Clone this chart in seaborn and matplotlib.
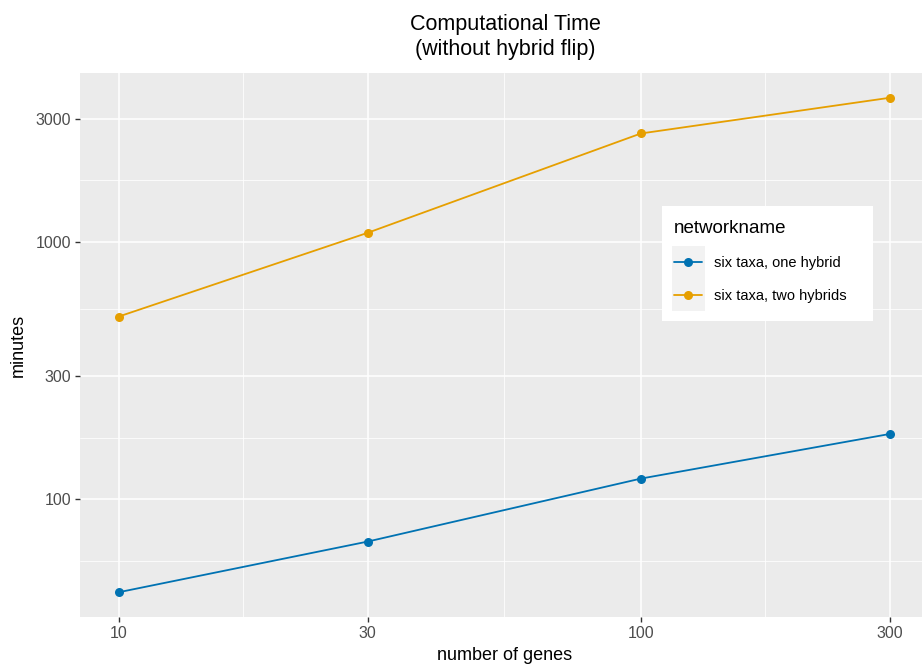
import numpy as np
import pandas as pd
import matplotlib
matplotlib.use("Agg")
import matplotlib.pyplot as plt
from matplotlib.patches import Rectangle
from matplotlib.ticker import FixedLocator, FixedFormatter, NullFormatter
import seaborn as sns

# Run times (minutes) per number of genes
genes = [10, 30, 100, 300]
one_hybrid = [43.6, 68.6, 120.4, 179.5]
two_hybrids = [512, 1083, 2630, 3620]
network_names = ["six taxa, one hybrid", "six taxa, two hybrids"]
colors = ["#0072B2", "#E69F00"]

x_breaks = [10, 30, 100, 300]
y_breaks = [100, 300, 1000, 3000]

df = pd.DataFrame({
    "genes": genes * 2,
    "minutes": one_hybrid + two_hybrids,
    "networkname": [network_names[0]] * 4 + [network_names[1]] * 4,
})

sns.set_theme(style="darkgrid")
plt.rcParams["font.family"] = ["Liberation Sans", "DejaVu Sans"]
plt.rcParams["text.color"] = "black"

W, H = 922, 667
fig = plt.figure(figsize=(W / 100, H / 100), dpi=100)
fig.patch.set_facecolor("white")

def fx(px):
    return px / W

def fy(py):
    return 1 - py / H

ax = fig.add_axes([fx(80), fy(617), fx(922) - fx(80), fy(73) - fy(617)])
ax.set_facecolor("#EBEBEB")

sns.lineplot(data=df, x="genes", y="minutes", hue="networkname",
             palette=colors, marker="o", markersize=6.5, markeredgewidth=0,
             linewidth=1.3, ax=ax, legend=False, zorder=3)

ax.set_xscale("log")
ax.set_yscale("log")

# limits with 5% expansion in log space; panel runs to the figure edge
lx = np.log10([min(genes), max(genes)])
ex = 0.05 * (lx[1] - lx[0])
x_lo = 10 ** (lx[0] - ex)
px_per_dec = 522.0
x_hi = 10 ** (np.log10(10) + (922 - 119) / px_per_dec)
ax.set_xlim(x_lo, x_hi)

allv = one_hybrid + two_hybrids
ly = np.log10([min(allv), max(allv)])
ey = 0.05 * (ly[1] - ly[0])
ax.set_ylim(10 ** (ly[0] - ey), 10 ** (ly[1] + ey))

# major ticks
ax.xaxis.set_major_locator(FixedLocator(x_breaks))
ax.xaxis.set_major_formatter(FixedFormatter([str(v) for v in x_breaks]))
ax.yaxis.set_major_locator(FixedLocator(y_breaks))
ax.yaxis.set_major_formatter(FixedFormatter([str(v) for v in y_breaks]))

def minor_breaks(b):
    lb = np.log10(b)
    step = lb[1] - lb[0]
    ext = np.concatenate([[lb[0] - step], lb, [lb[-1] + step]])
    return list(10 ** ((ext[:-1] + ext[1:]) / 2))

ax.xaxis.set_minor_locator(FixedLocator(minor_breaks(x_breaks)))
ax.yaxis.set_minor_locator(FixedLocator(minor_breaks(y_breaks)))
ax.xaxis.set_minor_formatter(NullFormatter())
ax.yaxis.set_minor_formatter(NullFormatter())

ax.grid(which="major", color="white", linewidth=1.1)
ax.grid(which="minor", color="white", linewidth=0.55)
for s in ax.spines.values():
    s.set_visible(False)

ax.tick_params(axis="both", which="major", length=3.5, width=1.0, color="#333333",
               labelcolor="#4D4D4D", labelsize=11.5, pad=3, bottom=True, left=True)
ax.tick_params(axis="both", which="minor", length=0)

ax.set_xlabel("number of genes", fontsize=13, color="black")
ax.set_ylabel("minutes", fontsize=13, color="black", labelpad=6)
ax.xaxis.set_label_coords((fx(505) - fx(80)) / (fx(922) - fx(80)), -0.055)

fig.text(fx(505), fy(37), "Computational Time\n(without hybrid flip)",
         ha="center", va="center", fontsize=15.5, linespacing=1.3, color="black")

# legend box
fig.patches.append(Rectangle((fx(662), fy(321)), fx(873) - fx(662), fy(206) - fy(321),
                             transform=fig.transFigure, facecolor="white",
                             edgecolor="none", zorder=3))
fig.patches.append(Rectangle((fx(672), fy(311)), fx(705) - fx(672), fy(246) - fy(311),
                             transform=fig.transFigure, facecolor="#F2F2F2",
                             edgecolor="none", zorder=4))
handles = [plt.Line2D([], [], color=c, marker="o", markersize=6.5,
                      markeredgewidth=0, linewidth=1.3) for c in colors]
leg = fig.legend(handles, network_names, title="networkname",
                 loc="upper left", bbox_to_anchor=(fx(661), fy(207)),
                 frameon=False, fontsize=10.5, title_fontsize=13.5,
                 handlelength=1.9, handletextpad=0.8, labelspacing=1.3,
                 borderpad=0.4, alignment="left")
leg.set_zorder(5)
for t in leg.get_texts():
    t.set_color("black")
leg.get_title().set_color("black")

fig.savefig("out.png", dpi=100)
